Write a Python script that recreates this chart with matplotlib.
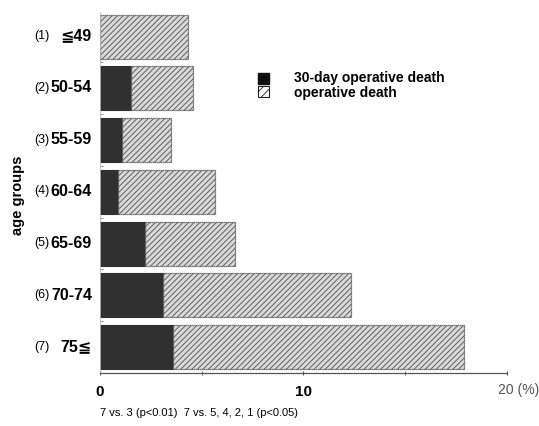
import numpy as np
import matplotlib.pyplot as plt

plt.rcParams['font.family'] = ['Liberation Sans', 'DejaVu Sans']

# operative death rate (%) by age group
grupos_num = ['(1)', '(2)', '(3)', '(4)', '(5)', '(6)', '(7)']
grupos_edad = ['≦49', '50-54', '55-59', '60-64', '65-69', '70-74', '75≦']
muerte_30d = [0.0, 1.5, 1.07, 0.9, 2.2, 3.12, 3.6]
muerte_total = [4.35, 4.55, 3.48, 5.67, 6.65, 12.36, 17.9]

fig = plt.figure(figsize=(5.39, 4.26), dpi=100)
ax = fig.add_axes([0.1855, 0.1244, 0.755, 0.847])

y = np.arange(len(grupos_edad))
resto = np.array(muerte_total) - np.array(muerte_30d)

ax.barh(y, muerte_30d, height=0.85, color='#303030', edgecolor='#303030', lw=0.8)
plt.rcParams['hatch.color'] = '#505050'
plt.rcParams['hatch.linewidth'] = 0.6
ax.barh(y, resto, left=muerte_30d, height=0.85, color='#d8d8d8',
        edgecolor='#505050', hatch='//////', lw=0.9, ls=(0, (1, 0.6)))

ax.set_xlim(0, 20)
ax.set_ylim(6.5, -0.47)

for s in ['top', 'right']:
    ax.spines[s].set_visible(False)
ax.spines['left'].set_color('#bbbbbb')
ax.spines['left'].set_linewidth(0.6)
ax.spines['bottom'].set_color('#555555')
ax.spines['bottom'].set_linewidth(0.9)

ax.set_yticks(y + 0.5)
ax.set_yticklabels([])
ax.tick_params(axis='y', length=2, color='#999999', direction='in')

ax.set_xticks([0, 10, 20])
ax.set_xticks([5, 15], minor=True)
ax.set_xticklabels(['0', '10', ''], fontsize=11, fontweight='bold')
ax.tick_params(axis='x', which='both', length=3, direction='inout', color='#555555', pad=7)
ax.text(19.55, -0.047, '20 (%)', transform=ax.get_xaxis_transform(), ha='left',
        va='center', fontsize=10, color='#555555')

# etiquetas de grupo: numero pequeño + rango en negrita
for i in range(len(grupos_edad)):
    ax.text(34 / 539, 1 - (36 + i * 51.8) / 426, grupos_num[i], transform=fig.transFigure,
            ha='left', va='center', fontsize=9)
    ax.text(92 / 539, 1 - (36 + i * 51.8) / 426, grupos_edad[i], transform=fig.transFigure,
            ha='right', va='center', fontsize=11.5, fontweight='bold')

fig.text(18 / 539, 1 - 195 / 426, 'age groups', rotation=90, ha='center', va='center',
         fontsize=10.5, fontweight='bold')

# leyenda
fig.patches.append(plt.Rectangle((258 / 539, 1 - 84 / 426), 11 / 539, 11 / 426,
                                 transform=fig.transFigure, color='#111111'))
fig.patches.append(plt.Rectangle((258 / 539, 1 - 97 / 426), 11 / 539, 11 / 426,
                                 transform=fig.transFigure, facecolor='white',
                                 edgecolor='#222222', hatch='////', lw=0.8))
fig.text(294 / 539, 1 - 78 / 426, '30-day operative death', ha='left', va='center',
         fontsize=10, fontweight='bold')
fig.text(294 / 539, 1 - 93 / 426, 'operative death', ha='left', va='center',
         fontsize=10, fontweight='bold')

fig.text(100 / 539, 1 - 413 / 426, '7 vs. 3 (p<0.01)  7 vs. 5, 4, 2, 1 (p<0.05)',
         ha='left', va='center', fontsize=8)

fig.savefig('out.png', dpi=100)
